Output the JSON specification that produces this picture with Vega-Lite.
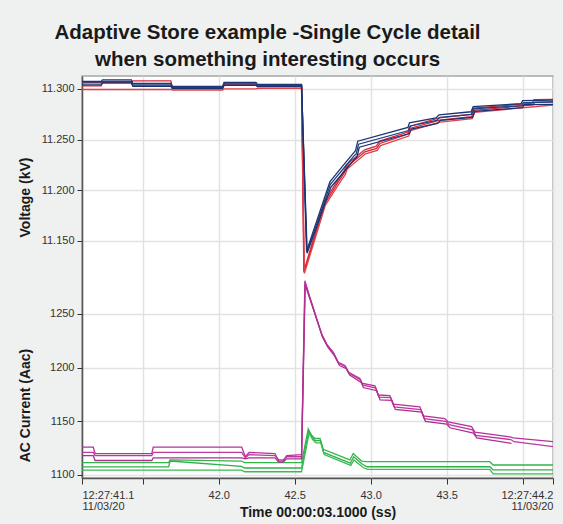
{
"$schema": "https://vega.github.io/schema/vega-lite/v6.json",
"width": 471, "height": 402,
"autosize": {"type": "none"},
"padding": {"left": 82, "top": 76, "right": 10, "bottom": 46},
"background": "#eff0f0",
"title": {"text": ["Adaptive Store example -Single Cycle detail", "when something interesting occurs"], "font": "Liberation Sans", "fontSize": 20.5, "fontWeight": "bold", "color": "#1a1a1a", "anchor": "middle", "frame": "group", "dx": -50, "offset": 6, "lineHeight": 26.5},
"datasets": {
"volt": [
{"s":"R1","t":41.1,"v":11.3065},{"s":"R1","t":41.425,"v":11.3065},{"s":"R1","t":41.435,"v":11.308},{"s":"R1","t":41.685,"v":11.308},{"s":"R1","t":41.695,"v":11.301},{"s":"R1","t":42.025,"v":11.301},{"s":"R1","t":42.035,"v":11.305},{"s":"R1","t":42.245,"v":11.305},{"s":"R1","t":42.255,"v":11.3035},{"s":"R1","t":42.545,"v":11.3035},
{"s":"R1","t":42.56,"v":11.12},{"s":"R1","t":42.697,"v":11.189},{"s":"R1","t":42.784,"v":11.21},{"s":"R1","t":42.828,"v":11.22},{"s":"R1","t":42.839,"v":11.225},{"s":"R1","t":42.96,"v":11.24},{"s":"R1","t":43.037,"v":11.2435},{"s":"R1","t":43.058,"v":11.2485},{"s":"R1","t":43.245,"v":11.2575},{"s":"R1","t":43.255,"v":11.263},{"s":"R1","t":43.452,"v":11.2715},{"s":"R1","t":43.66,"v":11.2748},{"s":"R1","t":43.675,"v":11.281},{"s":"R1","t":44.065,"v":11.286},{"s":"R1","t":44.075,"v":11.2895},{"s":"R1","t":44.2,"v":11.2898},
{"s":"R2","t":41.1,"v":11.303},{"s":"R2","t":41.225,"v":11.303},{"s":"R2","t":41.235,"v":11.306},{"s":"R2","t":41.425,"v":11.306},{"s":"R2","t":41.435,"v":11.303},{"s":"R2","t":41.685,"v":11.303},{"s":"R2","t":41.695,"v":11.3},{"s":"R2","t":42.025,"v":11.3},{"s":"R2","t":42.035,"v":11.304},{"s":"R2","t":42.245,"v":11.304},{"s":"R2","t":42.255,"v":11.302},{"s":"R2","t":42.545,"v":11.302},
{"s":"R2","t":42.562,"v":11.119},{"s":"R2","t":42.699,"v":11.1868},{"s":"R2","t":42.786,"v":11.208},{"s":"R2","t":42.83,"v":11.218},{"s":"R2","t":42.841,"v":11.223},{"s":"R2","t":42.962,"v":11.238},{"s":"R2","t":43.039,"v":11.2413},{"s":"R2","t":43.061,"v":11.2462},{"s":"R2","t":43.247,"v":11.2555},{"s":"R2","t":43.258,"v":11.261},{"s":"R2","t":43.455,"v":11.2693},{"s":"R2","t":43.664,"v":11.2726},{"s":"R2","t":43.68,"v":11.279},{"s":"R2","t":44.069,"v":11.2842},{"s":"R2","t":44.08,"v":11.287},{"s":"R2","t":44.2,"v":11.2875},
{"s":"R3","t":41.1,"v":11.2995},{"s":"R3","t":41.685,"v":11.2995},{"s":"R3","t":41.695,"v":11.299},{"s":"R3","t":42.025,"v":11.299},{"s":"R3","t":42.035,"v":11.3},{"s":"R3","t":42.245,"v":11.3},{"s":"R3","t":42.255,"v":11.3005},{"s":"R3","t":42.545,"v":11.3005},
{"s":"R3","t":42.564,"v":11.118},{"s":"R3","t":42.701,"v":11.185},{"s":"R3","t":42.79,"v":11.206},{"s":"R3","t":42.834,"v":11.216},{"s":"R3","t":42.845,"v":11.221},{"s":"R3","t":42.966,"v":11.236},{"s":"R3","t":43.043,"v":11.2393},{"s":"R3","t":43.065,"v":11.2442},{"s":"R3","t":43.25,"v":11.2535},{"s":"R3","t":43.262,"v":11.259},{"s":"R3","t":43.458,"v":11.2673},{"s":"R3","t":43.668,"v":11.2706},{"s":"R3","t":43.685,"v":11.277},{"s":"R3","t":44.2,"v":11.2842},
{"s":"B1","t":41.1,"v":11.3075},{"s":"B1","t":41.225,"v":11.3075},{"s":"B1","t":41.235,"v":11.309},{"s":"B1","t":41.425,"v":11.309},{"s":"B1","t":41.435,"v":11.3055},{"s":"B1","t":41.685,"v":11.3055},{"s":"B1","t":41.695,"v":11.3025},{"s":"B1","t":42.025,"v":11.3025},{"s":"B1","t":42.035,"v":11.3065},{"s":"B1","t":42.245,"v":11.3065},{"s":"B1","t":42.255,"v":11.3045},{"s":"B1","t":42.545,"v":11.3045},
{"s":"B1","t":42.578,"v":11.14},{"s":"B1","t":42.732,"v":11.2085},{"s":"B1","t":42.751,"v":11.212},{"s":"B1","t":42.83,"v":11.2265},{"s":"B1","t":42.885,"v":11.2365},{"s":"B1","t":42.9,"v":11.239},{"s":"B1","t":42.915,"v":11.2485},{"s":"B1","t":43.245,"v":11.262},{"s":"B1","t":43.255,"v":11.2665},{"s":"B1","t":43.43,"v":11.2715},{"s":"B1","t":43.45,"v":11.2745},{"s":"B1","t":43.66,"v":11.2775},{"s":"B1","t":43.675,"v":11.2825},{"s":"B1","t":43.99,"v":11.2855},{"s":"B1","t":44.0,"v":11.2885},{"s":"B1","t":44.2,"v":11.289},
{"s":"B2","t":41.1,"v":11.306},{"s":"B2","t":41.225,"v":11.306},{"s":"B2","t":41.235,"v":11.3075},{"s":"B2","t":41.425,"v":11.3075},{"s":"B2","t":41.435,"v":11.304},{"s":"B2","t":41.685,"v":11.304},{"s":"B2","t":41.695,"v":11.3015},{"s":"B2","t":42.025,"v":11.3015},{"s":"B2","t":42.035,"v":11.305},{"s":"B2","t":42.245,"v":11.305},{"s":"B2","t":42.255,"v":11.3035},{"s":"B2","t":42.545,"v":11.3035},
{"s":"B2","t":42.58,"v":11.139},{"s":"B2","t":42.735,"v":11.206},{"s":"B2","t":42.755,"v":11.2095},{"s":"B2","t":42.835,"v":11.224},{"s":"B2","t":42.89,"v":11.234},{"s":"B2","t":42.905,"v":11.236},{"s":"B2","t":42.92,"v":11.2455},{"s":"B2","t":43.25,"v":11.259},{"s":"B2","t":43.262,"v":11.2635},{"s":"B2","t":43.435,"v":11.269},{"s":"B2","t":43.455,"v":11.272},{"s":"B2","t":43.665,"v":11.275},{"s":"B2","t":43.68,"v":11.2805},{"s":"B2","t":43.995,"v":11.2835},{"s":"B2","t":44.005,"v":11.2865},{"s":"B2","t":44.2,"v":11.287},
{"s":"B3","t":41.1,"v":11.304},{"s":"B3","t":41.225,"v":11.304},{"s":"B3","t":41.235,"v":11.306},{"s":"B3","t":41.425,"v":11.306},{"s":"B3","t":41.435,"v":11.3025},{"s":"B3","t":41.685,"v":11.3025},{"s":"B3","t":41.695,"v":11.3005},{"s":"B3","t":42.025,"v":11.3005},{"s":"B3","t":42.035,"v":11.3035},{"s":"B3","t":42.245,"v":11.3035},{"s":"B3","t":42.255,"v":11.3025},{"s":"B3","t":42.545,"v":11.3025},
{"s":"B3","t":42.582,"v":11.138},{"s":"B3","t":42.738,"v":11.203},{"s":"B3","t":42.76,"v":11.207},{"s":"B3","t":42.84,"v":11.221},{"s":"B3","t":42.895,"v":11.231},{"s":"B3","t":42.91,"v":11.233},{"s":"B3","t":42.925,"v":11.2425},{"s":"B3","t":43.255,"v":11.256},{"s":"B3","t":43.268,"v":11.2605},{"s":"B3","t":43.44,"v":11.266},{"s":"B3","t":43.46,"v":11.269},{"s":"B3","t":43.67,"v":11.272},{"s":"B3","t":43.685,"v":11.278},{"s":"B3","t":43.998,"v":11.2815},{"s":"B3","t":44.01,"v":11.2845},{"s":"B3","t":44.2,"v":11.2848}
],
"curr": [
{"s":"G1","t":41.1,"v":1111.5},{"s":"G1","t":41.67,"v":1111.5},{"s":"G1","t":41.68,"v":1114},{"s":"G1","t":42.15,"v":1113},{"s":"G1","t":42.17,"v":1111.5},{"s":"G1","t":42.545,"v":1111.5},{"s":"G1","t":42.589,"v":1143},{"s":"G1","t":42.611,"v":1137},{"s":"G1","t":42.633,"v":1134},{"s":"G1","t":42.666,"v":1134},{"s":"G1","t":42.688,"v":1124},{"s":"G1","t":42.863,"v":1114},{"s":"G1","t":42.885,"v":1120},{"s":"G1","t":42.94,"v":1113},{"s":"G1","t":42.973,"v":1112.4},{"s":"G1","t":43.784,"v":1112.4},{"s":"G1","t":43.806,"v":1109.3},{"s":"G1","t":44.2,"v":1109.3},
{"s":"G2","t":41.1,"v":1107.5},{"s":"G2","t":41.67,"v":1107.5},{"s":"G2","t":41.68,"v":1113},{"s":"G2","t":42.15,"v":1108},{"s":"G2","t":42.17,"v":1106.5},{"s":"G2","t":42.545,"v":1106.5},{"s":"G2","t":42.592,"v":1141},{"s":"G2","t":42.614,"v":1135},{"s":"G2","t":42.636,"v":1132},{"s":"G2","t":42.67,"v":1132},{"s":"G2","t":42.69,"v":1121},{"s":"G2","t":42.866,"v":1111},{"s":"G2","t":42.888,"v":1117},{"s":"G2","t":42.945,"v":1110},{"s":"G2","t":42.976,"v":1107.7},{"s":"G2","t":43.784,"v":1107.7},{"s":"G2","t":43.806,"v":1104.7},{"s":"G2","t":44.2,"v":1104.7},
{"s":"G3","t":41.1,"v":1104.5},{"s":"G3","t":42.15,"v":1104.5},{"s":"G3","t":42.17,"v":1103},{"s":"G3","t":42.545,"v":1103},{"s":"G3","t":42.595,"v":1139},{"s":"G3","t":42.618,"v":1133},{"s":"G3","t":42.64,"v":1130},{"s":"G3","t":42.672,"v":1130},{"s":"G3","t":42.694,"v":1119},{"s":"G3","t":42.869,"v":1109},{"s":"G3","t":42.89,"v":1114},{"s":"G3","t":42.95,"v":1107},{"s":"G3","t":42.98,"v":1105.3},{"s":"G3","t":43.784,"v":1105.3},{"s":"G3","t":43.806,"v":1101},{"s":"G3","t":44.2,"v":1101},
{"s":"M1","t":41.1,"v":1126},{"s":"M1","t":41.174,"v":1126},{"s":"M1","t":41.186,"v":1120},{"s":"M1","t":41.559,"v":1120},{"s":"M1","t":41.569,"v":1126},{"s":"M1","t":42.151,"v":1126},{"s":"M1","t":42.175,"v":1117},{"s":"M1","t":42.2,"v":1121},{"s":"M1","t":42.37,"v":1120},{"s":"M1","t":42.395,"v":1113},{"s":"M1","t":42.424,"v":1113},{"s":"M1","t":42.447,"v":1118},{"s":"M1","t":42.545,"v":1119},{"s":"M1","t":42.567,"v":1281},{"s":"M1","t":42.6,"v":1265.5},{"s":"M1","t":42.677,"v":1231.5},{"s":"M1","t":42.71,"v":1222},{"s":"M1","t":42.753,"v":1214.5},{"s":"M1","t":42.786,"v":1205},{"s":"M1","t":42.83,"v":1202},{"s":"M1","t":42.852,"v":1196},{"s":"M1","t":42.929,"v":1190},{"s":"M1","t":42.94,"v":1185.5},{"s":"M1","t":43.028,"v":1183},{"s":"M1","t":43.049,"v":1174.5},{"s":"M1","t":43.126,"v":1174},{"s":"M1","t":43.148,"v":1166},{"s":"M1","t":43.324,"v":1163.5},{"s":"M1","t":43.346,"v":1155},{"s":"M1","t":43.488,"v":1152.5},{"s":"M1","t":43.51,"v":1149.5},{"s":"M1","t":43.664,"v":1145},{"s":"M1","t":43.686,"v":1140},{"s":"M1","t":43.916,"v":1135.5},{"s":"M1","t":43.938,"v":1134.5},{"s":"M1","t":44.2,"v":1131},
{"s":"M2","t":41.1,"v":1121},{"s":"M2","t":41.174,"v":1121},{"s":"M2","t":41.186,"v":1118},{"s":"M2","t":41.559,"v":1118},{"s":"M2","t":41.569,"v":1121},{"s":"M2","t":42.151,"v":1121},{"s":"M2","t":42.175,"v":1116},{"s":"M2","t":42.2,"v":1119},{"s":"M2","t":42.37,"v":1118},{"s":"M2","t":42.395,"v":1114},{"s":"M2","t":42.424,"v":1114},{"s":"M2","t":42.447,"v":1117},{"s":"M2","t":42.545,"v":1117},{"s":"M2","t":42.568,"v":1279},{"s":"M2","t":42.602,"v":1264},{"s":"M2","t":42.68,"v":1230},{"s":"M2","t":42.714,"v":1221},{"s":"M2","t":42.757,"v":1213},{"s":"M2","t":42.79,"v":1204},{"s":"M2","t":42.835,"v":1201},{"s":"M2","t":42.857,"v":1195},{"s":"M2","t":42.934,"v":1188.5},{"s":"M2","t":42.946,"v":1184},{"s":"M2","t":43.034,"v":1181},{"s":"M2","t":43.055,"v":1172.5},{"s":"M2","t":43.132,"v":1172},{"s":"M2","t":43.154,"v":1163.5},{"s":"M2","t":43.33,"v":1161},{"s":"M2","t":43.352,"v":1152.5},{"s":"M2","t":43.494,"v":1150},{"s":"M2","t":43.516,"v":1147},{"s":"M2","t":43.67,"v":1142},{"s":"M2","t":43.692,"v":1137},{"s":"M2","t":43.922,"v":1133},{"s":"M2","t":43.944,"v":1131},{"s":"M2","t":44.2,"v":1126.5},
{"s":"M3","t":41.1,"v":1118},{"s":"M3","t":41.174,"v":1118},{"s":"M3","t":41.186,"v":1113.5},{"s":"M3","t":41.559,"v":1113.5},{"s":"M3","t":41.569,"v":1116},{"s":"M3","t":42.151,"v":1116},{"s":"M3","t":42.175,"v":1115},{"s":"M3","t":42.2,"v":1116},{"s":"M3","t":42.37,"v":1116},{"s":"M3","t":42.395,"v":1112},{"s":"M3","t":42.424,"v":1112},{"s":"M3","t":42.447,"v":1115},{"s":"M3","t":42.545,"v":1115},{"s":"M3","t":42.569,"v":1277},{"s":"M3","t":42.605,"v":1262},{"s":"M3","t":42.684,"v":1228},{"s":"M3","t":42.718,"v":1219},{"s":"M3","t":42.762,"v":1211},{"s":"M3","t":42.795,"v":1202},{"s":"M3","t":42.84,"v":1199},{"s":"M3","t":42.862,"v":1193},{"s":"M3","t":42.94,"v":1186},{"s":"M3","t":42.952,"v":1181.5},{"s":"M3","t":43.04,"v":1178.5},{"s":"M3","t":43.062,"v":1170},{"s":"M3","t":43.14,"v":1169.5},{"s":"M3","t":43.162,"v":1161},{"s":"M3","t":43.338,"v":1158.5},{"s":"M3","t":43.36,"v":1150},{"s":"M3","t":43.5,"v":1147.5},{"s":"M3","t":43.522,"v":1144},{"s":"M3","t":43.676,"v":1139},{"s":"M3","t":43.698,"v":1134.5},{"s":"M3","t":43.927,"v":1129.5}
]
},
"encoding": {
"x": {"field": "t", "type": "quantitative", "scale": {"domain": [41.1, 44.2], "nice": false, "zero": false},
"axis": {"values": [41.1, 41.5, 42, 42.5, 43, 43.5, 44, 44.2],
"labelExpr": "datum.value < 41.2 ? ['12:27:41.1', '11/03/20'] : datum.value > 44.1 ? ['12:27:44.2', '11/03/20'] : (abs(datum.value - 41.5) < 0.01 || abs(datum.value - 44) < 0.01) ? '' : format(datum.value, '.1f')",
"labelAlign": {"condition": [{"test": "datum.value < 41.2", "value": "left"}, {"test": "datum.value > 44.1", "value": "right"}], "value": "center"},
"labelOverlap": false, "labelFlush": false, "labelBound": false,
"labelFont": "Liberation Sans", "labelFontSize": 11, "labelColor": "#333333", "labelLineHeight": 11, "labelPadding": 5, "labelBaseline": "top",
"tickSize": 6, "tickColor": "#333333", "domainColor": "#555555", "domainWidth": 1.5,
"grid": true, "gridColor": "#e2e2e2", "gridWidth": 1.5,
"title": "Time 00:00:03.1000 (ss)", "titleFont": "Liberation Sans", "titleFontSize": 14, "titleFontWeight": "bold", "titleColor": "#1a1a1a", "titleX": 235.5, "titleY": 38.5, "titleBaseline": "alphabetic", "titleAlign": "center"}}
},
"layer": [
{"data": {"name": "volt"}, "mark": {"type": "line", "strokeWidth": 1.3},
"encoding": {
"y": {"field": "v", "type": "quantitative", "scale": {"domain": [10.9161, 11.3128], "nice": false, "zero": false},
"axis": {"orient": "left", "values": [11.15, 11.2, 11.25, 11.3], "format": ".3f",
"labelFont": "Liberation Sans", "labelFontSize": 11, "labelColor": "#333333", "labelPadding": 3,
"tickSize": 5, "tickColor": "#333333", "domainColor": "#555555", "domainWidth": 1.5,
"grid": true, "gridColor": "#e2e2e2", "gridWidth": 1.5,
"title": "Voltage (kV)", "titleFont": "Liberation Sans", "titleFontSize": 14, "titleFontWeight": "bold", "titleColor": "#1a1a1a", "titleAngle": -90, "titleX": -56.5, "titleY": 121, "titleAlign": "center", "titleBaseline": "middle"}},
"color": {"field": "s", "type": "nominal", "legend": null, "scale": {"domain": ["R1","R2","R3","B1","B2","B3","G1","G2","G3","M1","M2","M3"], "range": ["#d8283a","#d42633","#e0404a","#1c3574","#22407f","#1a3370","#33b54a","#2fb048","#3aba52","#b8329a","#bc3aa0","#b02e92"]}}
}},
{"data": {"name": "curr"}, "mark": {"type": "line", "strokeWidth": 1.3},
"encoding": {
"y": {"field": "v", "type": "quantitative", "scale": {"domain": [1097.2, 1471.7], "nice": false, "zero": false},
"axis": {"orient": "left", "values": [1100, 1150, 1200, 1250], "format": "d",
"labelFont": "Liberation Sans", "labelFontSize": 11, "labelColor": "#333333", "labelPadding": 3,
"tickSize": 5, "tickColor": "#333333", "domain": false,
"grid": true, "gridColor": "#e2e2e2", "gridWidth": 1.5,
"title": "AC Current (Aac)", "titleFont": "Liberation Sans", "titleFontSize": 14, "titleFontWeight": "bold", "titleColor": "#1a1a1a", "titleAngle": -90, "titleX": -56.5, "titleY": 329, "titleAlign": "center", "titleBaseline": "middle"}},
"color": {"field": "s", "type": "nominal", "legend": null, "scale": {"domain": ["R1","R2","R3","B1","B2","B3","G1","G2","G3","M1","M2","M3"], "range": ["#d8283a","#d42633","#e0404a","#1c3574","#22407f","#1a3370","#33b54a","#2fb048","#3aba52","#b8329a","#bc3aa0","#b02e92"]}}
}}
],
"resolve": {"scale": {"y": "independent"}},
"config": {"view": {"fill": "white", "stroke": "#a6a6a6", "strokeWidth": 1.5}}
}
